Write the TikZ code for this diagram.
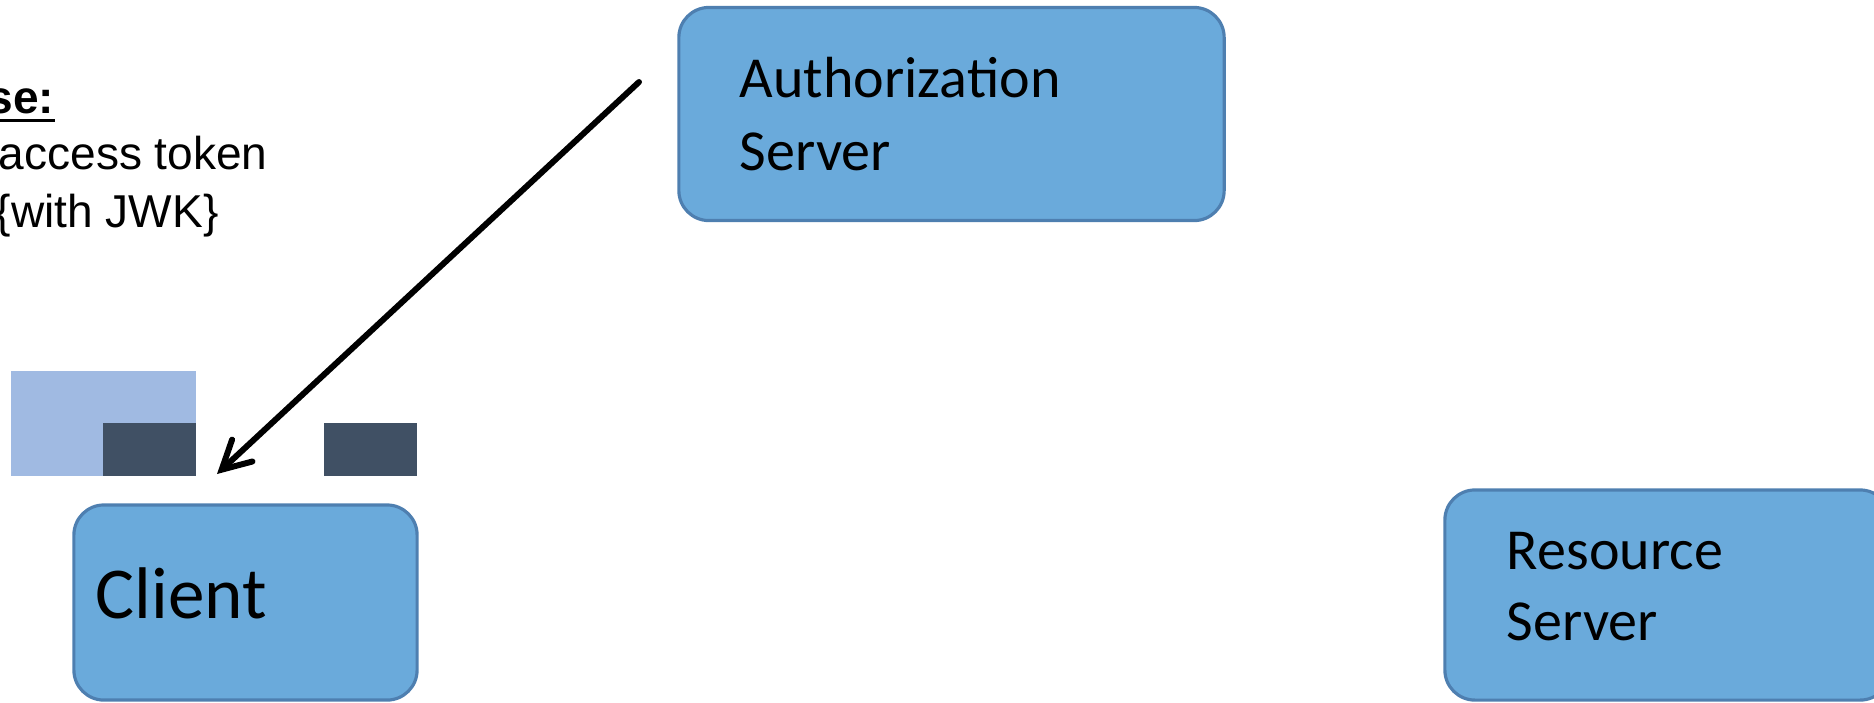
\documentclass[tikz,border=0pt]{standalone}
\usepackage{fontspec}
\setmainfont{Liberation Sans}
\newfontfamily\boxfont{Carlito}
\usetikzlibrary{arrows.meta}
\definecolor{srvfill}{HTML}{6AAADB}
\definecolor{srvline}{HTML}{4E7FB0}
\definecolor{keylight}{HTML}{A0BAE2}
\definecolor{keydark}{HTML}{405064}

\begin{document}
\begin{tikzpicture}[x=0.01cm,y=-0.01cm,
  srv/.style={draw=srvline,fill=srvfill,line width=0.9pt,rounded corners=0.3cm,align=left,inner ysep=0pt},
  note/.style={anchor=base west,inner sep=0pt,font=\fontsize{13.1}{16}\selectfont}]
\useasboundingbox (0,0) rectangle (1874,702);
% response text, cut at the left edge
\node[note] (resp) at (-13,113) {\textbf{se:}};
\draw[line width=0.85pt] ([yshift=-2.1pt]resp.base west) -- ([yshift=-2.1pt]resp.base east);
\node[note] (tok) at (-2,169) {access token};
\node[note] (jwk) at (-5,227) {\{with JWK\}};
% servers and client
\node[srv,minimum width=5.45cm,minimum height=2.13cm,text width=4.23cm,inner xsep=0.61cm,
  font=\boxfont\fontsize{16.5}{20.7}\selectfont] (auth) at (951.5,114) {Authorization\\Server};
\node[srv,minimum width=3.43cm,minimum height=1.95cm,text width=2.99cm,inner xsep=0.22cm,text depth=0.19cm,
  font=\boxfont\fontsize{20.8}{25}\selectfont] (client) at (245.5,602.5) {Client};
\node[srv,minimum width=4.45cm,minimum height=2.1cm,text width=3.21cm,inner xsep=0.62cm,
  font=\boxfont\fontsize{16.5}{20.3}\selectfont] (res) at (1667.5,595) {Resource\\Server\rule[-0.17cm]{0pt}{0pt}};
% key blocks above the client
\fill[keylight] (11,371) rectangle (196,476);
\fill[keydark] (103,423) rectangle (196,476);
\fill[keydark] (324,423) rectangle (417,476);
% token goes to the client
\coordinate (tokfrom) at (639,82);
\coordinate (tokto) at (217,474);
\draw[line width=1.7pt,line cap=round,-{Straight Barb[length=8pt,width=8.5pt,line cap=round]}] (tokfrom) -- (tokto);
\end{tikzpicture}
\end{document}
